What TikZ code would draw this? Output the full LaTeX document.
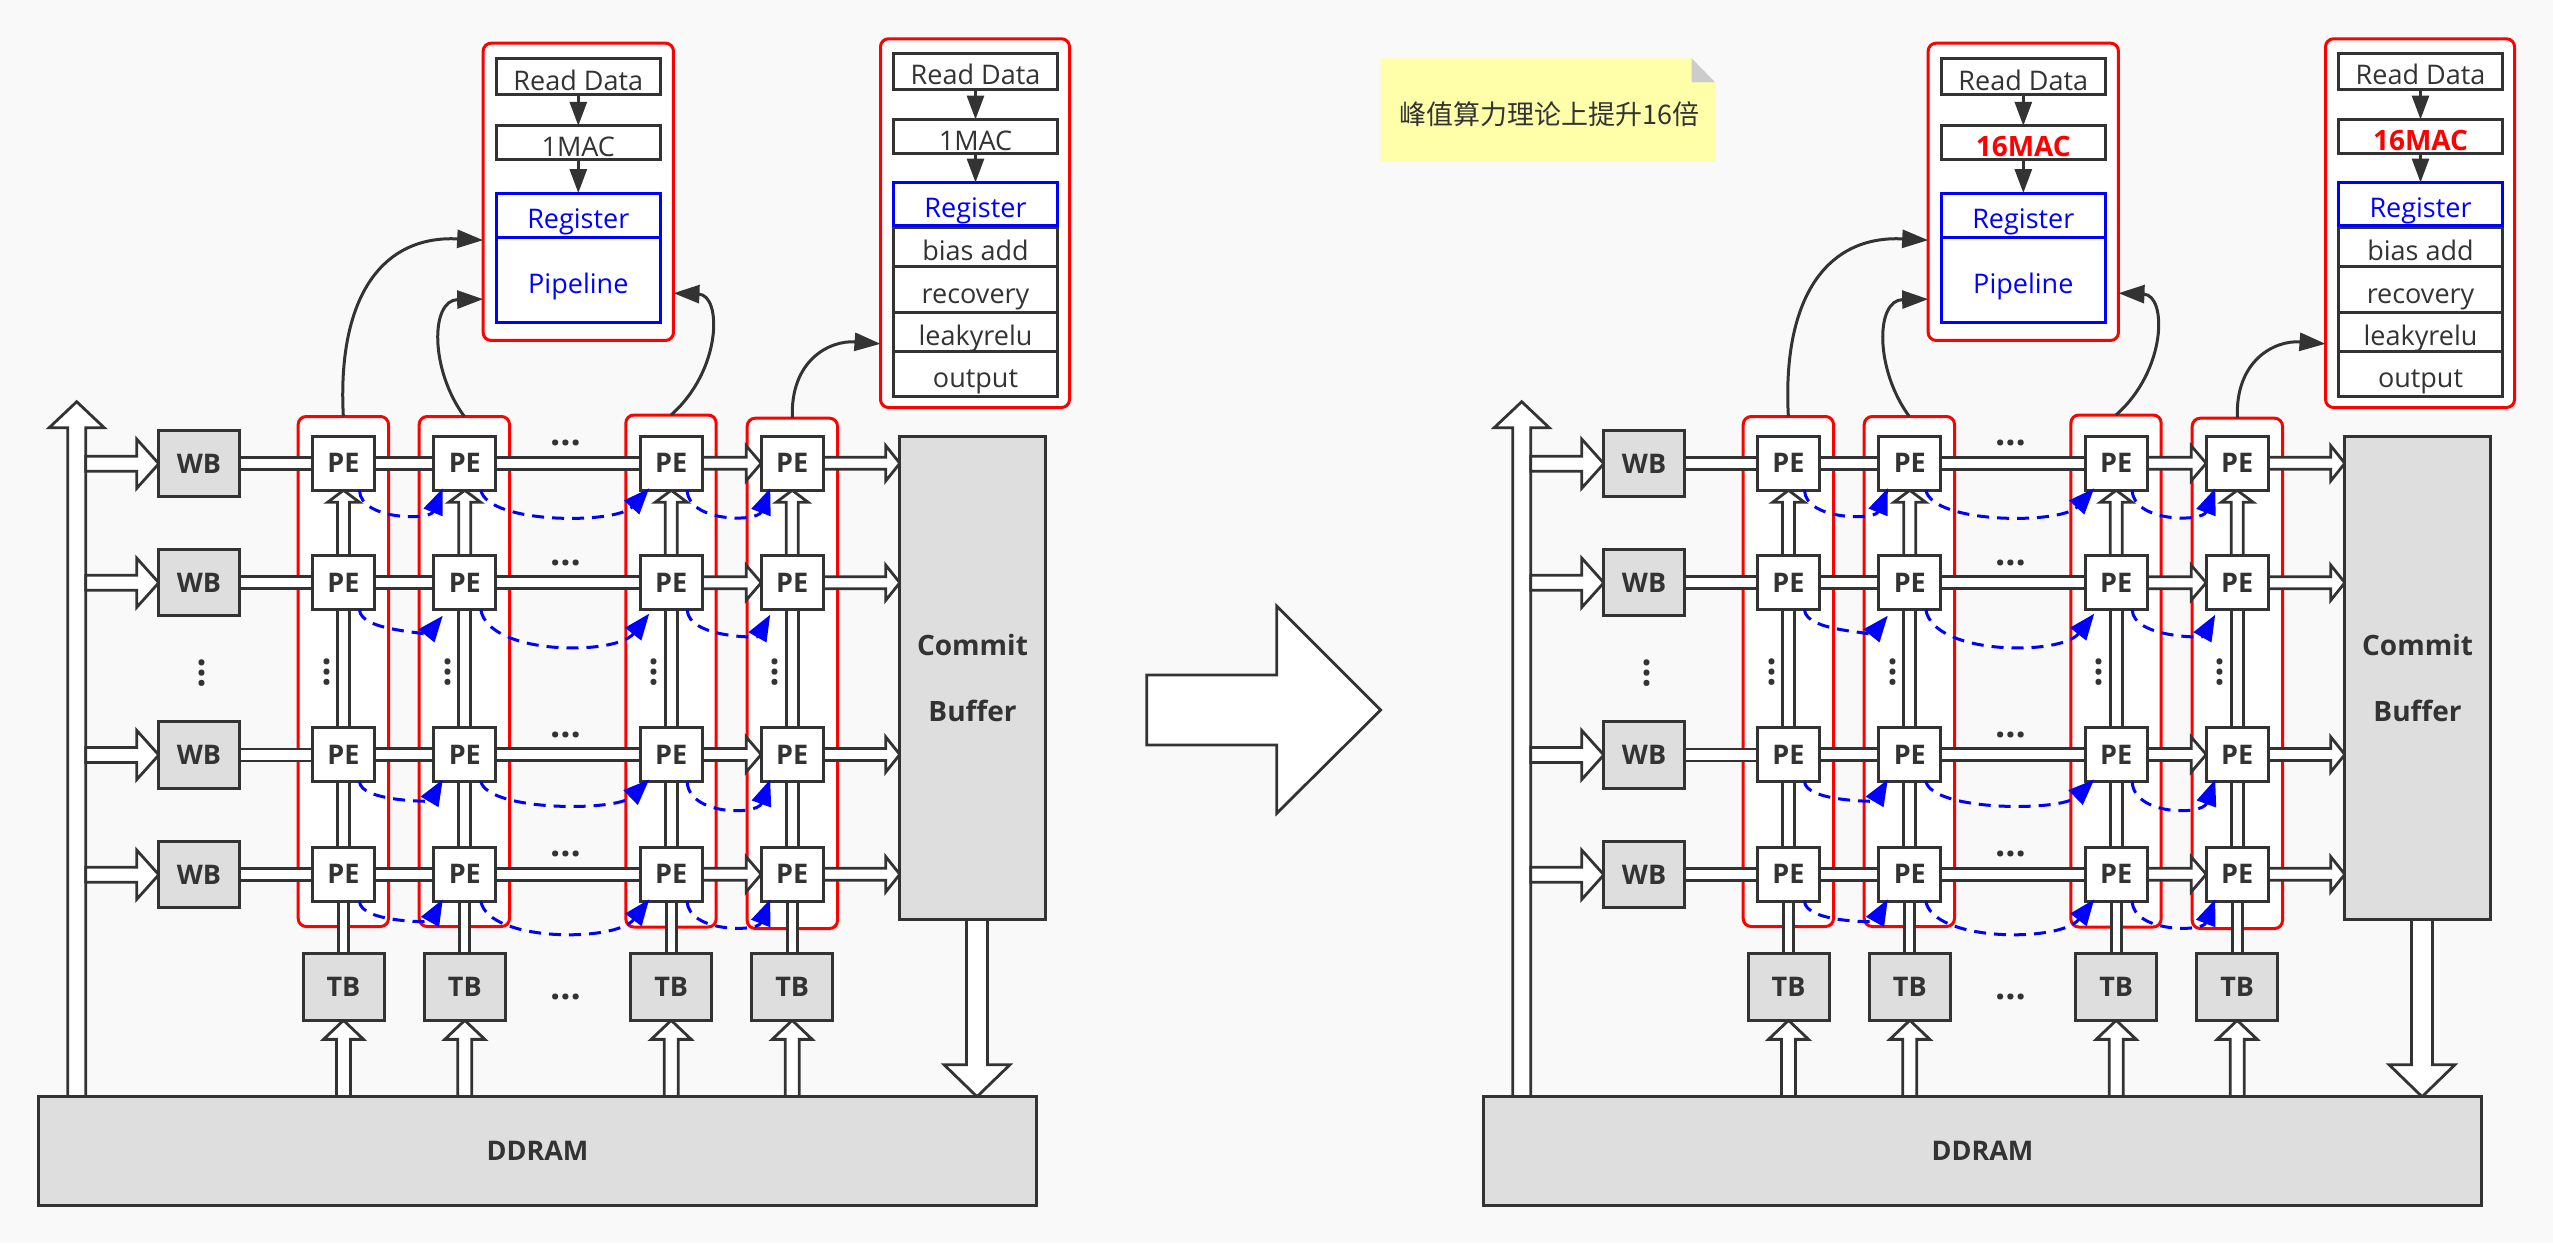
\documentclass[tikz,border=0pt]{standalone}
\usepackage{fontspec}
\setmainfont{Open Sans}
\newfontfamily\cjk{Noto Sans CJK SC}
\usetikzlibrary{arrows.meta,calc}
\pgfdeclarelayer{back}
\pgfdeclarelayer{mid}
\pgfsetlayers{back,mid,main}
\definecolor{bgc}{HTML}{F9F9F9}
\definecolor{ink}{HTML}{333333}
\definecolor{boxg}{HTML}{DEDEDE}
\definecolor{notey}{HTML}{FFFFAA}
\definecolor{foldg}{HTML}{CCCCCC}
\tikzset{
 every node/.style={inner sep=0pt, outer sep=0pt, text=ink},
 pebox/.style={draw=ink, line width=3pt, fill=white, minimum width=62pt, minimum height=54pt, font=\fontsize{27}{30}\selectfont\bfseries},
 gbox/.style={draw=ink, line width=3pt, fill=boxg, font=\fontsize{27}{30}\selectfont\bfseries},
 redcol/.style={draw=red, line width=3pt, fill=white, rounded corners=8pt},
 stage/.style={draw=ink, line width=3pt, fill=white, minimum width=164pt, text height=27pt, text depth=0pt, font=\fontsize{27}{30}\selectfont},
 bstage/.style={stage, draw=blue, text=blue},
 hollow/.style={draw=ink, line width=2.8pt, fill=white, line join=miter},
 curv/.style={draw=ink, line width=3pt, -{Triangle[length=26pt,width=18pt]}},
 flow/.style={draw=ink, line width=3pt, -{Triangle[length=24pt,width=17pt]}},
 bluedash/.style={draw=blue, line width=3pt, dash pattern=on 12pt off 8pt, -{Triangle[length=26pt,width=20pt]}},
 dots/.style={font=\fontsize{36}{36}\selectfont\bfseries, text=ink},
}
% hollow arrow helpers (canvas offsets)
\newcommand\hright[5]{\draw[hollow] let \p1=(#1), \p2=(#2) in (\x1,\y1+#3) -- (\x2-#5,\y1+#3) -- (\x2-#5,\y1+#4) -- (\x2,\y1) -- (\x2-#5,\y1-#4) -- (\x2-#5,\y1-#3) -- (\x1,\y1-#3) -- cycle;}
\newcommand\hshaft[3]{\draw[hollow] let \p1=(#1), \p2=(#2) in (\x1,\y1-#3) rectangle (\x2,\y1+#3);}
\newcommand\vup[5]{\draw[hollow] let \p1=(#1), \p2=(#2) in (\x1-#3,\y1) -- (\x1-#3,\y2-#5) -- (\x1-#4,\y2-#5) -- (\x1,\y2) -- (\x1+#4,\y2-#5) -- (\x1+#3,\y2-#5) -- (\x1+#3,\y1) -- cycle;}
\newcommand\vshaft[3]{\draw[hollow] let \p1=(#1), \p2=(#2) in (\x1-#3,\y1) rectangle (\x1+#3,\y2);}
\newcommand\vdown[5]{\draw[hollow] let \p1=(#1), \p2=(#2) in (\x1-#3,\y1) -- (\x1-#3,\y2+#5) -- (\x1-#4,\y2+#5) -- (\x1,\y2) -- (\x1+#4,\y2+#5) -- (\x1+#3,\y2+#5) -- (\x1+#3,\y1) -- cycle;}
\newcommand\barc[6]{\draw[bluedash] ($(#1.south east)+(-15,0)$) .. controls ($(#1.south east)+(#3,#5)$) and ($(#2.south west)+(#4,#5)$) .. ($(#2.south west)+(9,#6)$);}

\newcommand\panel[3]{%
\begin{pgfonlayer}{back}
\node[redcol, minimum width=90.3pt, minimum height=510pt] (#1rc1) at ({#2+343.35},671.5) {};
\node[redcol, minimum width=90.3pt, minimum height=510pt] (#1rc2) at ({#2+464.35},671.5) {};
\node[redcol, minimum width=90.3pt, minimum height=512pt] (#1rc3) at ({#2+671},671) {};
\node[redcol, minimum width=90.3pt, minimum height=510.3pt] (#1rc4) at ({#2+792.35},673.35) {};
\end{pgfonlayer}
\foreach \c/\x in {1/343.5,2/464.8,3/671.2,4/792.2}{
  \foreach \r/\y in {1/463.3,2/582.7,3/754.5,4/874.3}{
    \node[pebox] (#1p\r\c) at ({#2+\x},\y) {PE};
  }
  \node[gbox, minimum width=81pt, minimum height=66.7pt] (#1tb\c) at ({#2+\x},987) {TB};
  \node[dots, rotate=90] (#1vd\c) at ({#2+\x-17},672.5) {…};
}
\foreach \r/\y in {1/463.7,2/582.7,3/755,4/874.7}{
  \node[gbox, minimum width=80.4pt, minimum height=66.3pt] (#1wb\r) at ({#2+199},\y) {WB};
  \coordinate (#1bus\r) at ({#2+85.7},\y);
}
\node[dots, rotate=90] (#1vdw) at ({#2+202.3},673) {…};
\foreach \k/\y in {1/443.3,2/563.3,3/734.5,4/854.3,5/996.7}{
  \node[dots] (#1hd\k) at ({#2+566},\y) {…};
}
\node[gbox, minimum width=145.4pt, minimum height=483pt, align=center, font=\fontsize{28}{66}\selectfont\bfseries] (#1cb) at ({#2+972.5},678) {Commit\\Buffer};
\node[gbox, minimum width=998pt, minimum height=108.7pt] (#1dd) at ({#2+537.5},1151) {DDRAM};
\coordinate (#1bustip) at ({#2+76.7},401.7);
% top left box
\node[draw=red, line width=3pt, fill=white, rounded corners=8pt, minimum width=190.3pt, minimum height=297.3pt] (#1tl) at ({#2+578.3},191.8) {};
\node[stage, minimum height=35.4pt] (#1rda) at ({#2+578.3},76.5) {Read Data};
\node[stage, minimum height=33.4pt] (#1maca) at ({#2+578.3},142.5) {#3};
\node[bstage, minimum height=44.3pt] (#1rega) at ({#2+578.3},215.2) {Register};
\node[bstage, minimum height=85.5pt] (#1pip) at ({#2+578.3},280) {Pipeline};
\draw[flow] (#1rda) -- (#1maca);
\draw[flow] (#1maca) -- (#1rega);
% top right box
\node[draw=red, line width=3pt, fill=white, rounded corners=8pt, minimum width=189pt, minimum height=368.7pt] (#1tr) at ({#2+975},223.15) {};
\node[stage, minimum height=36pt] (#1rdb) at ({#2+975.5},71.2) {Read Data};
\node[stage, minimum height=34pt] (#1macb) at ({#2+975.5},136.5) {#3};
\node[stage, minimum height=39.7pt] (#1bias) at ({#2+975.5},246.85) {bias add};
\node[stage, minimum height=46pt] (#1rec) at ({#2+975.5},289.7) {recovery};
\node[stage, minimum height=39pt] (#1leak) at ({#2+975.5},332.2) {leakyrelu};
\node[stage, minimum height=44.5pt] (#1outp) at ({#2+975.5},374) {output};
\node[bstage, minimum height=43pt] (#1regb) at ({#2+975.5},204) {Register};
\draw[flow] (#1rdb) -- (#1macb);
\draw[flow] (#1macb) -- (#1regb);
% hollow arrows
\begin{pgfonlayer}{mid}
\vup{#1dd.north -| #1bustip}{#1bustip}{9pt}{27.5pt}{26pt}
\foreach \r in {1,2,3,4}{
 \hright{#1bus\r}{#1wb\r.west}{7.5pt}{24.5pt}{22pt}
 \hshaft{#1wb\r.east}{#1p\r1.west}{6pt}
 \hshaft{#1p\r1.east}{#1p\r2.west}{6pt}
 \hshaft{#1p\r2.east}{#1p\r3.west}{6pt}
 \hright{#1p\r3.east}{#1p\r4.west}{6pt}{17.5pt}{15pt}
 \hright{#1p\r4.east}{#1cb.west}{6pt}{17.5pt}{14pt}
}
\foreach \c in {1,2,3,4}{
 \vup{#1p2\c.north}{#1p1\c.south}{6pt}{16pt}{12pt}
 \vshaft{#1p3\c.north}{#1p2\c.south}{6pt}
 \vshaft{#1p4\c.north}{#1p3\c.south}{6pt}
 \vshaft{#1tb\c.north}{#1p4\c.south}{5pt}
 \vup{#1dd.north -| #1tb\c}{#1tb\c.south}{7pt}{20pt}{19pt}
}
\vdown{$(#1cb.south)+(4.5,0)$}{#1dd.north}{10.5pt}{33pt}{32pt}
\end{pgfonlayer}
% curved connectors
\draw[curv] (#1rc1.north) .. controls ({#2+337},300) and ({#2+380},235) .. ($(#1tl.north west)+(0,197)$);
\draw[curv] (#1rc2.north) .. controls ({#2+430},370) and ({#2+430},300) .. ($(#1tl.north west)+(0,256)$);
\draw[curv] (#1rc3.north) .. controls ({#2+722},370) and ({#2+722},295) .. ($(#1tl.north east)+(0,250)$);
\draw[curv] (#1rc4.north) .. controls ({#2+790},360) and ({#2+830},340) .. ($(#1tr.north west)+(0,305)$);
% blue dashed transfers
\barc{#1p11}{#1p12}{-14}{-4}{30}{-2}
\barc{#1p12}{#1p13}{-7}{-24}{34}{-2}
\barc{#1p13}{#1p14}{-14}{-4}{32}{-2}
\barc{#1p21}{#1p22}{-14}{-4}{22}{6}
\barc{#1p22}{#1p23}{-7}{-24}{46}{4}
\barc{#1p23}{#1p24}{-14}{-4}{28}{5}
\barc{#1p31}{#1p32}{-14}{-4}{20}{-2}
\barc{#1p32}{#1p33}{-7}{-24}{30}{-2}
\barc{#1p33}{#1p34}{-14}{-4}{34}{-2}
\barc{#1p41}{#1p42}{-14}{-4}{21}{-2}
\barc{#1p42}{#1p43}{-7}{-24}{41}{-2}
\barc{#1p43}{#1p44}{-14}{-4}{31}{-2}
}

\begin{document}
\begin{tikzpicture}[x=1pt,y=-1pt]
\useasboundingbox (0,0) rectangle (2553,1243);
\begin{pgfonlayer}{back}
\fill[bgc] (0,0) rectangle (2553,1243);
\end{pgfonlayer}
\panel{L}{0}{1MAC}
\panel{R}{1445}{\textcolor{red}{\fontsize{28}{30}\selectfont\bfseries 16MAC}}
% middle transition arrow
\draw[hollow] (1146.7,675) -- (1276.7,675) -- (1276.7,606) -- (1380.7,710) -- (1276.7,813.3) -- (1276.7,745) -- (1146.7,745) -- cycle;
% note
\fill[notey] (1380.6,58.3) -- (1691.7,58.3) -- (1715,82.3) -- (1715,161.7) -- (1380.6,161.7) -- cycle;
\fill[foldg] (1691.7,58.3) -- (1691.7,82.3) -- (1715,82.3) -- cycle;
\node[font=\cjk\fontsize{27}{30}\selectfont] (note) at (1549,114) {峰值算力理论上提升16倍};
\end{tikzpicture}
\end{document}
